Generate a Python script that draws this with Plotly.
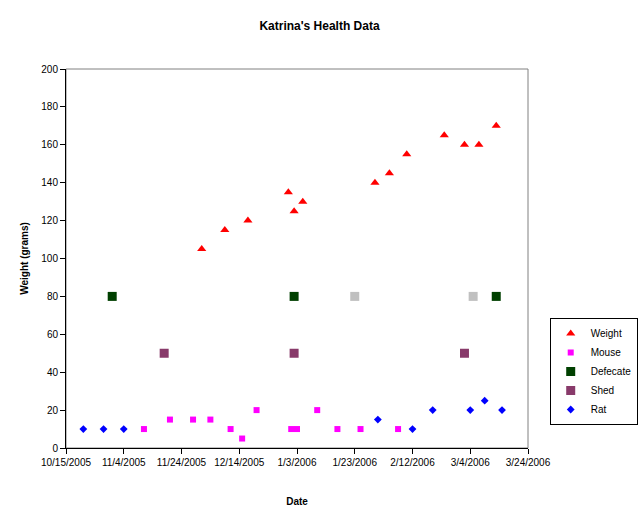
import plotly.graph_objects as go
from datetime import date, timedelta

# ---- data ----
weight_dates = ["2005-12-01", "2005-12-09", "2005-12-17", "2005-12-31", "2006-01-02",
                "2006-01-05", "2006-01-30", "2006-02-04", "2006-02-10", "2006-02-23",
                "2006-03-02", "2006-03-07", "2006-03-13"]
weight_vals = [105, 115, 120, 135, 125, 130, 140, 145, 155, 165, 160, 160, 170]

mouse_dates = ["2005-11-11", "2005-11-20", "2005-11-28", "2005-12-04", "2005-12-11",
               "2005-12-15", "2005-12-20", "2006-01-01", "2006-01-03", "2006-01-10",
               "2006-01-17", "2006-01-25", "2006-02-07"]
mouse_vals = [10, 15, 15, 15, 10, 5, 20, 10, 10, 20, 10, 10, 10]

defecate_dates = ["2005-10-31", "2006-01-02", "2006-03-13"]
defecate_vals = [80, 80, 80]

shed_dates = ["2005-11-18", "2006-01-02", "2006-03-02"]
shed_vals = [50, 50, 50]

rat_dates = ["2005-10-21", "2005-10-28", "2005-11-04", "2006-01-31", "2006-02-12",
             "2006-02-19", "2006-03-04", "2006-03-09", "2006-03-15"]
rat_vals = [10, 10, 10, 15, 10, 20, 20, 25, 20]

other_dates = ["2006-01-23", "2006-03-05"]
other_vals = [80, 80]

x_start = date(2005, 10, 15)
x_end = date(2006, 3, 24)
tick_dates = [x_start + timedelta(days=20 * i) for i in range(9)]
tick_labels = [f"{d.month}/{d.day}/{d.year}" for d in tick_dates]

FONT = "Liberation Sans, Arial, sans-serif"

fig = go.Figure()
fig.add_trace(go.Scatter(x=weight_dates, y=weight_vals, mode="markers", name="Weight",
                         marker=dict(symbol="triangle-up", size=8, color="#FF0000")))
fig.add_trace(go.Scatter(x=mouse_dates, y=mouse_vals, mode="markers", name="Mouse",
                         marker=dict(symbol="square", size=6, color="#FF00FF")))
fig.add_trace(go.Scatter(x=defecate_dates, y=defecate_vals, mode="markers", name="Defecate",
                         marker=dict(symbol="square", size=9, color="#004000")))
fig.add_trace(go.Scatter(x=shed_dates, y=shed_vals, mode="markers", name="Shed",
                         marker=dict(symbol="square", size=9, color="#883A6A")))
fig.add_trace(go.Scatter(x=rat_dates, y=rat_vals, mode="markers", name="Rat",
                         marker=dict(symbol="diamond", size=6, color="#0000FF")))
fig.add_trace(go.Scatter(x=other_dates, y=other_vals, mode="markers", name="Other",
                         showlegend=False,
                         marker=dict(symbol="square", size=9, color="#C0C0C0")))

fig.update_layout(
    width=639, height=527,
    margin=dict(l=66, r=111, t=69, b=79, autoexpand=False),
    paper_bgcolor="white", plot_bgcolor="white",
    font=dict(family=FONT, size=10, color="black"),
    title=dict(text="<b>Katrina's Health Data</b>", x=0.5, xref="container",
               y=1 - 26 / 527, yref="container", yanchor="middle", xanchor="center",
               font=dict(family=FONT, size=12, color="black")),
    showlegend=True,
    legend=dict(x=1.047, xanchor="left", y=0.343, yanchor="top",
                bordercolor="black", borderwidth=1, bgcolor="white",
                font=dict(family=FONT, size=10, color="black"),
                itemwidth=30, tracegroupgap=0),
    shapes=[dict(type="rect", xref="paper", yref="paper", x0=0, x1=1, y0=0, y1=1,
                 line=dict(color="#808080", width=1), layer="below")],
)

fig.update_xaxes(
    type="date", range=[x_start.isoformat(), x_end.isoformat()],
    tickmode="array", tickvals=[d.isoformat() for d in tick_dates], ticktext=tick_labels,
    ticks="outside", ticklen=5, tickcolor="black", tickwidth=1,
    showline=True, linecolor="black", linewidth=1, showgrid=False, zeroline=False,
    tickfont=dict(family=FONT, size=10, color="black"),
    title=dict(text="<b>Date</b>", standoff=30, font=dict(family=FONT, size=10, color="black")),
)
fig.update_yaxes(
    range=[0, 200], tickmode="linear", tick0=0, dtick=20,
    ticks="outside", ticklen=5, tickcolor="black", tickwidth=1,
    showline=True, linecolor="black", linewidth=1, showgrid=False, zeroline=False,
    tickfont=dict(family=FONT, size=10, color="black"),
    title=dict(text="<b>Weight (grams)</b>", standoff=10, font=dict(family=FONT, size=10, color="black")),
)

fig.write_html("out.html")
